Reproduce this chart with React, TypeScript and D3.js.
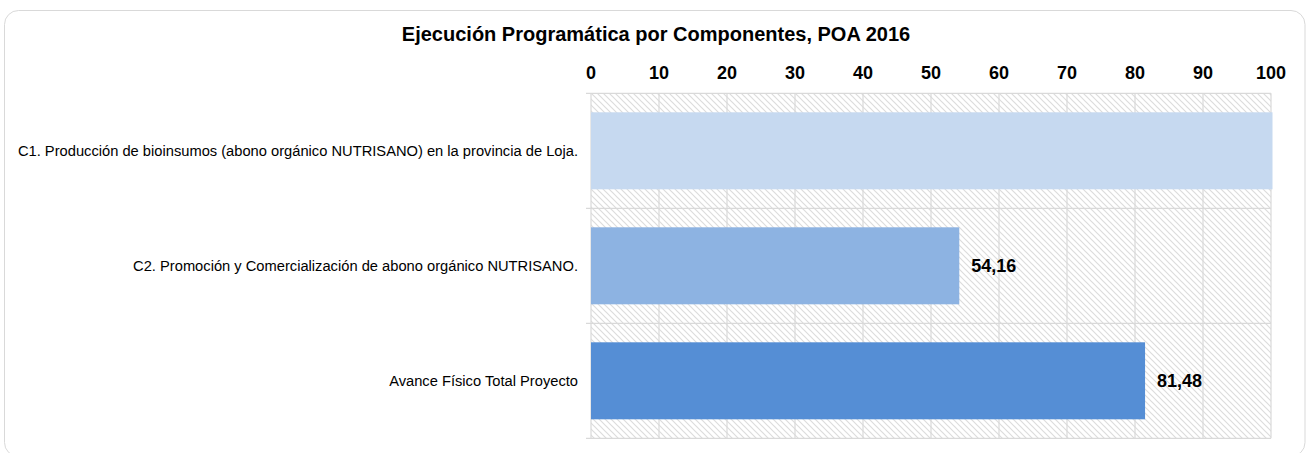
import React from "react";
import * as d3 from "d3";

const categories = [
  "C1. Producción de bioinsumos (abono orgánico NUTRISANO) en la provincia de Loja.",
  "C2. Promoción y Comercialización de abono orgánico NUTRISANO.",
  "Avance Físico Total Proyecto",
];
const values = [100, 54.16, 81.48];
const showLabel = [false, true, true];
const barColors = ["#c6d9f0", "#8db3e2", "#558ed5"];
const ticks = [0, 10, 20, 30, 40, 50, 60, 70, 80, 90, 100];
const title = "Ejecución Programática por Componentes, POA 2016";

const W = 1309;
const H = 453;
const font = "'Liberation Sans', Arial, sans-serif";

export default function App() {
  const x = d3.scaleLinear().domain([0, 100]).range([591, 1271]);
  const y = d3.scaleBand<string>().domain(categories).range([93.3, 438.3]).paddingInner(0).paddingOuter(0);
  const bw = y.bandwidth();
  const barH = 77;
  const fmt = (v: number) => v.toFixed(2).replace(".", ",");
  return (
    <svg width={W} height={H} style={{ position: "absolute", left: 0, top: 0, fontFamily: font }}>
      <defs>
        <pattern id="hatch" patternUnits="userSpaceOnUse" width="6" height="6">
          <path d="M-1,-1 L7,7 M-1,5 L1,7 M5,-1 L7,1" stroke="#dcdcdc" strokeWidth="1.2" />
        </pattern>
      </defs>
      <rect x={4.5} y={10.5} width={1300.5} height={446} rx={14} ry={14} fill="#fff" stroke="#d9d9d9" strokeWidth={1} />
      <text x={656} y={41} textAnchor="middle" fontSize={20} fontWeight="bold" fill="#000">
        {title}
      </text>
      <rect x={x(0)} y={y.range()[0]} width={x(100) - x(0)} height={y.range()[1] - y.range()[0]} fill="url(#hatch)" />
      {ticks.map((t) => (
        <line key={"g" + t} x1={x(t)} x2={x(t)} y1={93.3} y2={438.3} stroke="#d9d9d9" strokeWidth={1.2} />
      ))}
      {[0, 1, 2, 3].map((i) => {
        const yy = 93.3 + i * bw;
        return <line key={"h" + i} x1={x(0) - 5} x2={x(100)} y1={yy} y2={yy} stroke="#d9d9d9" strokeWidth={1.2} />;
      })}
      {ticks.map((t) => (
        <text key={"t" + t} x={x(t)} y={79} textAnchor="middle" fontSize={18} fontWeight="bold" fill="#000">
          {t}
        </text>
      ))}
      {categories.map((c, i) => {
        const cy = (y(c) as number) + bw / 2;
        return (
          <g key={c}>
            <rect x={x(0)} y={cy - barH / 2} width={x(values[i]) - x(0) + (values[i] >= 100 ? 1.5 : 0)} height={barH} fill={barColors[i]} />
            <text x={578} y={cy} dy="0.35em" textAnchor="end" fontSize={14.7} fill="#000">
              {c}
            </text>
            {showLabel[i] && (
              <text x={x(values[i]) + 12} y={cy} dy="0.35em" fontSize={18} fontWeight="bold" fill="#000">
                {fmt(values[i])}
              </text>
            )}
          </g>
        );
      })}
    </svg>
  );
}
